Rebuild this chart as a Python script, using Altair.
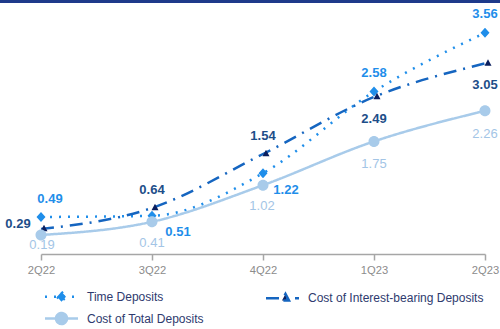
import altair as alt
import pandas as pd
import json

quarters = ["2Q22", "3Q22", "4Q22", "1Q23", "2Q23"]
time_deposits = [0.49, 0.51, 1.22, 2.58, 3.56]
interest_bearing = [0.29, 0.64, 1.54, 2.49, 3.05]
total_deposits = [0.19, 0.41, 1.02, 1.75, 2.26]

S_TIME = "Time Deposits"
S_INT = "Cost of Interest-bearing Deposits"
S_TOT = "Cost of Total Deposits"
series_order = [S_TIME, S_INT, S_TOT]

rows = []
for name, vals in [(S_TIME, time_deposits), (S_INT, interest_bearing), (S_TOT, total_deposits)]:
    for q, v in zip(quarters, vals):
        rows.append({"quarter": q, "value": v, "series": name})
df = pd.DataFrame(rows)

FONT = "Liberation Sans"
C_TIME = "#1F8EEA"
C_INT_LINE = "#1565C0"
C_INT_MARK = "#0B1F5E"
C_INT_LABEL = "#1D4E89"
C_TOT = "#A8CBEA"
C_TOT_LABEL = "#A3C5E6"

# symbol paths: a horizontal stroke (only visible where stroked, i.e. in the legend) plus a filled marker
P_DIAMOND = "M-3.3,0H3.3M0,-1L0.9,0L0,1L-0.9,0Z"
P_TRIANGLE = "M-3.3,0H3.3M0.6,-0.85L1.3,0.45L-0.1,0.45Z"
P_CIRCLE = "M-3.3,0H3.3M-1.1,0A1.1,1.1,0,1,1,1.1,0A1.1,1.1,0,1,1,-1.1,0Z"

x_enc = alt.X("quarter:N", sort=quarters,
              scale=alt.Scale(type="point", padding=0, domain=quarters),
              axis=alt.Axis(title=None, grid=False, domainColor="#A6A6A6", domainWidth=1.5,
                            tickColor="#A6A6A6", tickWidth=1.5, tickSize=6, labelPadding=4,
                            labelColor="#8C8C8C", labelFontSize=11.2, labelFont=FONT,
                            labelAngle=0))
y_enc = alt.Y("value:Q", scale=alt.Scale(domain=[-0.127, 4.107], nice=False, zero=False), axis=None)

legend = alt.Legend(
    title=None, orient="none", legendX=14, legendY=290, columns=2, direction="horizontal",
    columnPadding=57, rowPadding=1, symbolSize=100, labelOffset=19, padding=0,
    labelFont=FONT, labelFontSize=12, labelColor="#2E3A6E", labelLimit=400,
)

base = alt.Chart(df)

lines = base.mark_line(interpolate="monotone", strokeCap="butt").encode(
    x=x_enc, y=y_enc,
    stroke=alt.Stroke("series:N", sort=series_order,
                      scale=alt.Scale(domain=series_order, range=[C_TIME, C_INT_LINE, C_TOT]),
                      legend=legend),
    strokeDash=alt.StrokeDash("series:N", sort=series_order,
                              scale=alt.Scale(domain=series_order, range=[[2, 7], [13, 7, 2, 7], [1, 0]]),
                              legend=legend),
    strokeWidth=alt.StrokeWidth("series:N", sort=series_order,
                                scale=alt.Scale(domain=series_order, range=[2.5, 2.5, 4]),
                                legend=legend),
)

points = base.mark_point(filled=True, size=100, opacity=1).encode(
    x=x_enc, y=y_enc,
    fill=alt.Fill("series:N", sort=series_order,
                  scale=alt.Scale(domain=series_order, range=[C_TIME, C_INT_MARK, C_TOT]),
                  legend=legend),
    shape=alt.Shape("series:N", sort=series_order,
                    scale=alt.Scale(domain=series_order, range=[P_DIAMOND, P_TRIANGLE, P_CIRCLE]),
                    legend=legend),
)

def labels(series, qs, dx, dy, color, bold=True):
    expr = f"datum.series === {json.dumps(series)} && indexof({json.dumps(qs)}, datum.quarter) >= 0"
    return base.transform_filter(expr).mark_text(
        dx=dx, dy=dy, color=color, font=FONT, fontSize=13,
        fontWeight="bold" if bold else "normal", baseline="middle", align="center").encode(
        x=x_enc, y=y_enc, text=alt.Text("value:Q", format=".2f"))

texts = [
    labels(S_TIME, ["2Q22"], 9, -18, C_TIME),
    labels(S_TIME, ["3Q22"], 26, 16, C_TIME),
    labels(S_TIME, ["4Q22"], 23, 17, C_TIME),
    labels(S_TIME, ["1Q23", "2Q23"], 0, -19, C_TIME),
    labels(S_INT, ["2Q22"], -23, -5, C_INT_LABEL),
    labels(S_INT, ["3Q22", "4Q22"], 0, -18, C_INT_LABEL),
    labels(S_INT, ["1Q23", "2Q23"], 0, 22, C_INT_LABEL),
    labels(S_TOT, ["2Q22"], 1, 10, C_TOT_LABEL, bold=False),
    labels(S_TOT, ["3Q22"], 0, 21, C_TOT_LABEL, bold=False),
    labels(S_TOT, ["4Q22"], -1, 21, C_TOT_LABEL, bold=False),
    labels(S_TOT, ["1Q23", "2Q23"], 0, 23, C_TOT_LABEL, bold=False),
]

top_bar = base.mark_rule(color="#1E3A8A", strokeWidth=2.5).encode(
    x=alt.value(-41), x2=alt.value(459), y=alt.value(1))

chart = alt.layer(lines, points, *texts, top_bar).properties(
    width=444, height=254,
    autosize=alt.AutoSizeParams(type="none"),
    padding={"left": 41, "top": 0, "right": 15, "bottom": 75},
    background="white",
).configure_view(stroke=None)

chart.save("out.html", embed_options={"renderer": "svg", "actions": False})
